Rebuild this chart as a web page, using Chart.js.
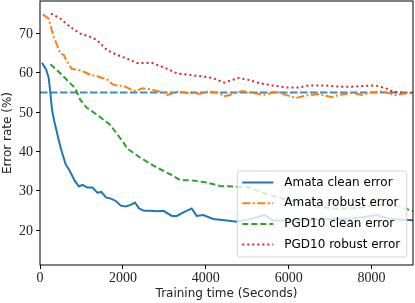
<!DOCTYPE html>
<html>
<head>
<meta charset="utf-8">
<script src="https://cdn.jsdelivr.net/npm/chart.js@4.4.1/dist/chart.umd.min.js"></script>
</head>
<body style="margin:0">
<canvas id="chart" width="415" height="303"></canvas>
<script>
// values (training time in seconds, error rate in %)
const amataCleanT = [50, 150, 210, 250, 290, 345, 450, 510, 620, 700, 840, 940, 1025, 1145, 1265, 1385, 1480, 1590, 1710, 1830, 1950, 2070, 2190, 2290, 2390, 2510, 2660, 2820, 2980, 3180, 3300, 3460, 3660, 3780, 3940, 4180, 4510, 4750, 5070, 5430, 5620, 6030, 6590, 7000, 7480, 8120, 8440, 9000];
const amataCleanErr = [62.6, 60.8, 58.7, 54.9, 50.6, 47.7, 43.0, 40.5, 36.7, 35.4, 32.5, 31.1, 31.5, 30.8, 30.8, 29.5, 29.7, 28.3, 28.0, 27.4, 26.2, 26.0, 26.4, 27.0, 25.5, 24.9, 24.9, 24.8, 24.9, 23.6, 23.6, 24.5, 25.5, 23.6, 23.8, 22.8, 22.4, 22.1, 22.8, 23.8, 22.4, 22.4, 22.6, 22.8, 22.8, 23.8, 22.8, 22.5];

const amataRobustT = [70, 210, 250, 330, 410, 490, 570, 650, 770, 930, 1100, 1210, 1370, 1500, 1615, 1710, 1775, 1910, 2015, 2215, 2310, 2470, 2710, 2980, 3075, 3220, 3360, 3540, 3860, 4060, 4320, 4440, 4640, 4880, 5120, 5450, 5690, 5930, 6170, 6410, 6730, 7050, 7210, 7530, 7780, 8015, 8260, 8580, 9000];
const amataRobustErr = [74.9, 73.8, 72.2, 69.2, 67.1, 65.0, 64.6, 62.9, 61.0, 60.8, 60.1, 59.5, 59.2, 58.7, 58.4, 57.4, 57.0, 56.7, 56.7, 55.7, 55.4, 56.1, 55.7, 55.0, 54.4, 54.9, 55.3, 54.9, 54.7, 55.3, 54.9, 54.0, 54.6, 55.4, 54.9, 54.4, 55.3, 54.4, 53.6, 54.2, 54.6, 53.8, 54.4, 54.9, 54.4, 55.1, 55.3, 54.4, 55.0];

const pgdCleanT = [250, 450, 650, 850, 970, 1130, 1370, 1690, 2015, 2100, 2420, 2820, 3140, 3380, 3620, 4030, 4350, 4660, 5070, 5470, 6030, 6510, 7160, 7640, 8270, 8680, 9000];
const pgdCleanErr = [62.2, 60.3, 58.2, 56.1, 53.2, 51.1, 49.4, 46.8, 42.3, 40.8, 38.4, 35.9, 34.2, 32.7, 32.7, 32.1, 31.2, 31.1, 30.8, 29.1, 27.5, 26.2, 25.4, 25.6, 26.5, 26.0, 24.8];

const pgdRobustT = [265, 490, 730, 970, 1210, 1370, 1615, 1855, 2175, 2340, 2470, 2710, 3035, 3300, 3440, 3840, 4160, 4440, 4640, 4800, 5045, 5285, 5610, 5930, 6250, 6490, 6890, 7210, 7530, 7860, 8100, 8340, 8500, 8740, 9000];
const pgdRobustErr = [75.1, 73.8, 71.7, 70.0, 69.2, 68.4, 65.8, 64.6, 63.3, 62.5, 62.5, 62.5, 61.2, 59.9, 59.7, 59.2, 58.7, 57.5, 58.2, 58.7, 58.2, 57.4, 56.8, 56.3, 56.3, 56.8, 56.8, 56.5, 56.5, 56.7, 56.8, 56.1, 55.3, 54.9, 54.9];

const referenceErr = 55;
const xTicks = [0, 2000, 4000, 6000, 8000];
const yTicks = [20, 30, 40, 50, 60, 70];
const xRange = [0, 9000];
const yRange = [11.1, 78.3];

const pts = (ts, vs) => ts.map((t, i) => ({ x: t, y: vs[i] }));

const mkLine = (label, data, color, dash) => ({
  label: label,
  data: data,
  borderColor: color,
  borderWidth: 2,
  borderDash: dash,
  pointRadius: 0,
  fill: false,
  tension: 0
});

const datasets = [
  mkLine('Amata clean error', pts(amataCleanT, amataCleanErr), '#1f77b4', []),
  mkLine('Amata robust error', pts(amataRobustT, amataRobustErr), '#ff7f0e', [8, 2.5, 2, 2.5]),
  mkLine('PGD10 clean error', pts(pgdCleanT, pgdCleanErr), '#2ca02c', [6, 3]),
  mkLine('PGD10 robust error', pts(pgdRobustT, pgdRobustErr), '#d62728', [2, 3]),
  Object.assign(mkLine('', pts(xRange, [referenceErr, referenceErr]), 'rgba(31,119,180,0.85)', [7.5, 2.5]), { legendSkip: true })
];

// matplotlib style frame, legend box and serif tick labels
const frameAndLegend = {
  id: 'frameAndLegend',
  afterDatasetsDraw(chart) {
    const ctx = chart.ctx;
    const area = chart.chartArea;
    const items = chart.data.datasets.filter(d => !d.legendSkip);

    const boxR = area.right - 6.3, boxB = area.bottom - 8;
    const boxL = boxR - 169.4, boxT = boxB - 86;
    ctx.save();
    ctx.beginPath();
    ctx.roundRect(boxL, boxT, boxR - boxL, boxB - boxT, 3);
    ctx.fillStyle = 'rgba(255,255,255,0.8)';
    ctx.fill();
    ctx.strokeStyle = '#d4d4d4';
    ctx.lineWidth = 1;
    ctx.stroke();

    ctx.font = "12px 'DejaVu Sans'";
    ctx.textBaseline = 'middle';
    ctx.fillStyle = '#000';
    items.forEach((d, i) => {
      const y = boxT + 11.5 + i * 20.7;
      ctx.beginPath();
      ctx.setLineDash(d.borderDash);
      ctx.strokeStyle = d.borderColor;
      ctx.lineWidth = 2;
      ctx.moveTo(boxL + 5, y);
      ctx.lineTo(boxL + 36, y);
      ctx.stroke();
      ctx.setLineDash([]);
      ctx.fillText(d.label, boxL + 47, y);
    });

    ctx.strokeStyle = '#000';
    ctx.lineWidth = 1;
    ctx.strokeRect(area.left, area.top, area.right - area.left, area.bottom - area.top);
    ctx.restore();
  },
  afterDraw(chart) {
    const ctx = chart.ctx;
    const xs = chart.scales.x, ys = chart.scales.y;
    ctx.save();
    ctx.font = "14px 'Liberation Serif'";
    ctx.fillStyle = '#222';
    ctx.textBaseline = 'alphabetic';
    ctx.textAlign = 'center';
    xTicks.forEach(v => ctx.fillText(String(v), xs.getPixelForValue(v), 282));
    ctx.textAlign = 'right';
    yTicks.forEach(v => ctx.fillText(String(v), chart.chartArea.left - 7, ys.getPixelForValue(v) + 4.6));
    ctx.restore();
  }
};

new Chart(document.getElementById('chart'), {
  type: 'line',
  data: { datasets: datasets },
  options: {
    responsive: false,
    animation: false,
    layout: { padding: { left: 0, right: 2, top: 1, bottom: 0 } },
    plugins: { legend: { display: false }, tooltip: { enabled: false } },
    scales: {
      x: {
        type: 'linear',
        min: xRange[0],
        max: xRange[1],
        afterBuildTicks: s => { s.ticks = xTicks.map(v => ({ value: v })); },
        afterFit: s => { s.height = 38; },
        grid: { drawOnChartArea: false, drawTicks: true, tickLength: 4, color: '#000' },
        border: { display: false },
        ticks: { display: false },
        title: { display: true, text: 'Training time (Seconds)', color: '#222', font: { family: "'DejaVu Sans'", size: 12 }, padding: { top: 0, bottom: 2.3 } }
      },
      y: {
        min: yRange[0],
        max: yRange[1],
        afterBuildTicks: s => { s.ticks = yTicks.map(v => ({ value: v })); },
        afterFit: s => { s.width = 40; },
        grid: { drawOnChartArea: false, drawTicks: true, tickLength: 4, color: '#000' },
        border: { display: false },
        ticks: { display: false },
        title: { display: true, text: 'Error rate (%)', color: '#222', font: { family: "'DejaVu Sans'", size: 12 }, padding: { top: 0.3, bottom: 0 } }
      }
    }
  },
  plugins: [frameAndLegend]
});
</script>
</body>
</html>
